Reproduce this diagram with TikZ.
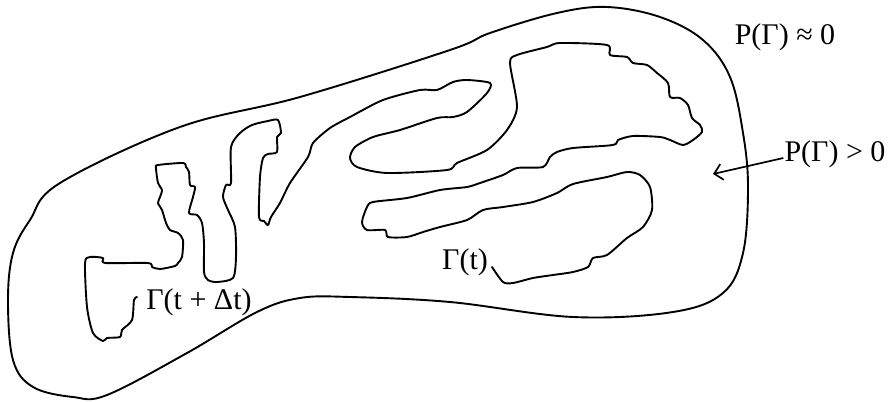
\documentclass[tikz,border=0pt]{standalone}
\usepackage{fontspec}
\setmainfont{Liberation Serif}
\usepackage{tikz}
\usetikzlibrary{arrows.meta}

\begin{document}
\begin{tikzpicture}[x=1pt, y=-1pt, font=\fontsize{30}{35}\selectfont,
        curve/.style={line width=1.9pt, line join=round, line cap=round},
        lbl/.style={inner sep=1pt},
        ptr/.style={line width=1.7pt, -{Straight Barb[length=8pt, width=16pt]}}]
  \useasboundingbox (0,0) rectangle (890,401);
  % outer region
  \draw[curve] plot[smooth cycle, tension=0.6] coordinates {
    (450,50) (300,97) (180,127) (60,183) (30,220) (13,253) (8,300) (13,360)
    (33,387) (73,397) (107,395) (187,353) (257,312) (300,298) (350,297)
    (450,302) (573,317) (673,312) (723,293) (743,253) (748,187) (743,133)
    (730,77) (703,40) (660,17) (607,7) (557,13) (490,33)};
  % interface
  \draw[curve] plot[smooth, tension=0.45] coordinates {
    (137,297) (134,300) (132,320) (122,330) (120,337) (107,338) (103,341)
    (93,333) (87,307) (85,263) (90,257) (103,258) (105,263) (148,263)
    (152,267) (160,269) (175,266) (178,263) (182,257) (183,240) (178,233)
    (170,230) (166,223) (162,210) (158,203) (160,197) (162,190) (158,183)
    (156,168) (158,165) (183,163) (186,167) (189,172) (190,185) (195,187)
    (193,197) (189,213) (197,215) (202,223) (204,243) (204,272) (208,280)
    (217,282) (233,278) (236,257) (235,227) (228,210) (223,197) (226,185)
    (231,183) (231,147) (240,133) (252,125) (268,121) (278,120) (281,133)
    (277,137) (277,152) (268,154) (263,158) (260,177) (259,217) (264,221)
    (268,225) (271,217) (280,203) (290,183) (308,157) (313,143) (330,128)
    (350,117) (383,100) (420,90) (437,90) (453,82) (467,80) (490,83)
    (487,93) (467,112) (453,117) (437,118) (400,130) (373,137) (355,147)
    (350,158) (357,167) (387,173) (447,170) (457,163) (487,150) (507,130)
    (517,107) (510,63) (517,55) (547,47) (560,43) (607,45) (610,55)
    (627,57) (633,63) (647,65) (657,73) (668,83) (670,97) (680,98)
    (688,105) (692,118) (700,125) (702,132) (693,140) (683,145) (670,140)
    (660,137) (633,136) (618,140) (613,145) (573,148) (557,152) (550,157)
    (543,167) (517,168) (503,175) (480,183) (467,187) (440,190) (407,198)
    (373,202) (367,207) (362,222) (367,230) (385,230) (388,237) (407,237)
    (423,232) (440,227) (467,220) (483,210) (503,207) (533,202) (557,193)
    (573,184) (607,177) (627,172) (640,175) (650,187) (652,210) (643,227)
    (627,238) (607,255) (593,258) (588,267) (573,272) (553,275) (533,278)
    (513,283) (503,282) (492,267)};

  \node[lbl] (gdt) at (199,302) {Γ(t + Δt)};
  \node[lbl] (gt) at (465,262) {Γ(t)};
  \node[lbl] (pzero) at (785,37) {P(Γ) ≈ 0};
  \node[lbl] (ppos) at (835,154) {P(Γ) > 0};
  \coordinate (tip) at (713,174);
  \draw[ptr] ([yshift=-4pt]ppos.west) -- (tip);
\end{tikzpicture}
\end{document}
